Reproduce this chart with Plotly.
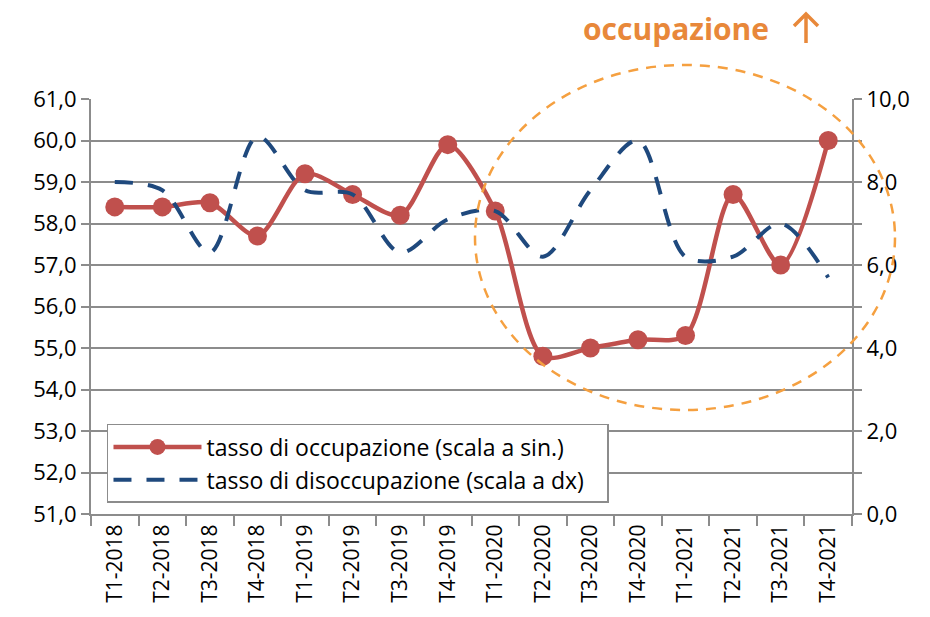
import plotly.graph_objects as go

categories = ["T1-2018", "T2-2018", "T3-2018", "T4-2018",
              "T1-2019", "T2-2019", "T3-2019", "T4-2019",
              "T1-2020", "T2-2020", "T3-2020", "T4-2020",
              "T1-2021", "T2-2021", "T3-2021", "T4-2021"]
occupazione = [58.4, 58.4, 58.5, 57.7, 59.2, 58.7, 58.2, 59.9,
               58.3, 54.8, 55.0, 55.2, 55.3, 58.7, 57.0, 60.0]
disoccupazione = [8.0, 7.8, 6.3, 9.1, 7.8, 7.7, 6.3, 7.1,
                  7.3, 6.2, 7.8, 9.0, 6.2, 6.2, 7.0, 5.7]

FONT = "Open Sans"
GRAY = "#8c8c8c"
ORANGE_TXT = "#E8883A"

fig = go.Figure()
fig.add_trace(go.Scatter(
    x=categories, y=occupazione, name="tasso di occupazione (scala a sin.)",
    mode="lines+markers", line=dict(color="#C0504D", width=4.5, shape="spline", smoothing=0.8),
    marker=dict(color="#C0504D", size=19), yaxis="y"))
fig.add_trace(go.Scatter(
    x=categories, y=disoccupazione, name="tasso di disoccupazione (scala a dx)\u00a0\u00a0\u00a0",
    mode="lines", line=dict(color="#1F497D", width=4, dash="18px,15px", shape="spline", smoothing=0.9),
    yaxis="y2"))

fig.update_layout(
    width=922, height=609,
    margin=dict(l=83, r=78, t=91, b=103, autoexpand=False),
    paper_bgcolor="white", plot_bgcolor="white",
    separators=",.",
    font=dict(family=FONT, size=21, color="#000000"),
    xaxis=dict(type="category", range=[-0.5, 15.5], showline=True, linecolor=GRAY, linewidth=2,
               ticks="outside", tickson="boundaries", ticklen=10, tickcolor=GRAY, tickwidth=2,
               tickangle=-90, tickfont=dict(size=21), showgrid=False, automargin=False),
    yaxis=dict(range=[51, 61], dtick=1, tickformat=".1f", showline=True, linecolor=GRAY, linewidth=2,
               ticks="outside", ticklen=8, tickcolor=GRAY, tickwidth=2,
               showgrid=True, gridcolor=GRAY, gridwidth=1.5, zeroline=False,
               tickfont=dict(size=22), automargin=False),
    yaxis2=dict(range=[0, 10], dtick=2, tickformat=".1f", overlaying="y", side="right",
                showline=True, linecolor=GRAY, linewidth=2,
                ticks="outside", ticklen=8, tickcolor=GRAY, tickwidth=2,
                minor=dict(dtick=1, ticks="outside", ticklen=8, tickcolor=GRAY, tickwidth=2),
                showgrid=False, zeroline=False, tickfont=dict(size=22), automargin=False),
    legend=dict(x=0.021, y=0.217, xanchor="left", yanchor="top",
                bgcolor="white", bordercolor=GRAY, borderwidth=1.5,
                font=dict(size=23), tracegroupgap=0, itemwidth=88),
    showlegend=True,
)

fig.add_shape(type="circle", xref="paper", yref="paper",
              x0=0.5046, x1=1.0565, y0=0.2506, y1=1.082,
              line=dict(color="#F5A040", width=2.5, dash="10px,8px"), layer="above")

fig.add_annotation(xref="paper", yref="paper", x=(676 - 91) / 761, y=(514 - 28) / 415,
                   text="<b>occupazione</b>", showarrow=False,
                   font=dict(family=FONT, size=30, color=ORANGE_TXT),
                   xanchor="center", yanchor="middle")


def px(x):
    return (x - 91) / 761


def py(y):
    return (514 - y) / 415


arrow_path = (f"M {px(794)} {py(26)} L {px(806)} {py(14)} L {px(818)} {py(26)} "
              f"M {px(806)} {py(14)} L {px(806)} {py(43)}")
fig.add_shape(type="path", xref="paper", yref="paper", path=arrow_path,
              line=dict(color=ORANGE_TXT, width=3.5))

fig.write_html("out.html")
